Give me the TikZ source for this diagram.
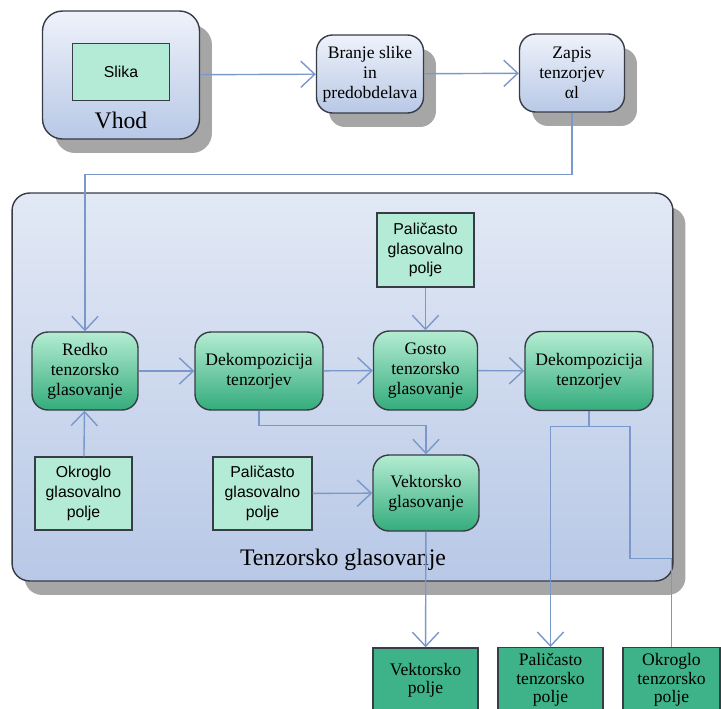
\documentclass[tikz,border=0pt]{standalone}
\usepackage{fontspec}
\setmainfont{Liberation Serif}
\setsansfont{Liberation Sans}
\usepackage{tikz}
\usetikzlibrary{arrows.meta, shadows}
\definecolor{conn}{RGB}{122,152,202}
\definecolor{edge}{RGB}{55,60,70}
\definecolor{mint}{RGB}{179,235,214}
\definecolor{greentop}{RGB}{180,236,210}
\definecolor{greenbot}{RGB}{52,172,124}
\definecolor{bluetop}{RGB}{238,242,250}
\definecolor{bluebot}{RGB}{184,200,230}
\definecolor{darkgreen}{RGB}{62,178,136}
\tikzstyle{stage} = [rectangle, rounded corners=0.32cm, align=center, draw=edge, line width=0.8pt, top color=bluetop, bottom color=bluebot, drop shadow={shadow xshift=0.25cm, shadow yshift=-0.28cm, fill=black!35, opacity=1}, font=\fontsize{10}{11.5}\selectfont]
\tikzstyle{process} = [rectangle, rounded corners=0.32cm, align=center, draw=edge, line width=0.8pt, top color=greentop, bottom color=greenbot, font=\fontsize{10}{11.5}\selectfont]
\tikzstyle{field} = [rectangle, align=center, draw=edge, line width=0.8pt, fill=mint, font=\sffamily\fontsize{9}{11.3}\selectfont]
\tikzstyle{result} = [rectangle, align=center, draw=edge, line width=0.8pt, fill=darkgreen, font=\fontsize{10}{10.5}\selectfont]
\tikzstyle{panel} = [rectangle, rounded corners=0.35cm, draw=edge, line width=0.8pt, top color=bluetop!90!conn, bottom color=bluebot, drop shadow={shadow xshift=0.25cm, shadow yshift=-0.28cm, fill=black!35, opacity=1}]
\tikzstyle{arrow} = [draw=conn, line width=0.8pt, -{Straight Barb[length=8pt, width=15pt]}]
\tikzstyle{link} = [draw=conn, line width=0.8pt]

\begin{document}
\begin{tikzpicture}[x=0.02cm, y=-0.02cm]
        \clip (0,0) rectangle (721,708);
        % input
        \node (vhod) [stage, minimum width=3.14cm, minimum height=2.56cm, rounded corners=0.4cm] at (121,75) {};
        \node (slika) [field, minimum width=1.94cm, minimum height=1.14cm] at (121,72) {Slika};
        \node (vhodtxt) [font=\fontsize{13.5}{15}\selectfont] at (121,120) {Vhod};
        \node (branje) [stage, minimum width=2.14cm, minimum height=1.56cm] at (370,74) {Branje slike\\in\\predobdelava};
        \node (zapis) [stage, minimum width=2.1cm, minimum height=1.56cm] at (572,73) {Zapis\\tenzorjev\\αl};

        % tensor voting
        \node (tenz) [panel, minimum width=13.22cm, minimum height=7.76cm] at (342.5,387) {};
        \node (tenztxt) [font=\fontsize{13.5}{15}\selectfont] at (343,560) {Tenzorsko glasovanje};
        \node (palA) [field, minimum width=1.94cm, minimum height=1.48cm] at (425.5,250) {Paličasto\\glasovalno\\polje};
        \node (redko) [process, minimum width=2.12cm, minimum height=1.56cm] at (85,371) {Redko\\tenzorsko\\glasovanje};
        \node (dek1) [process, minimum width=2.56cm, minimum height=1.56cm] at (259,371) {Dekompozicija\\tenzorjev};
        \node (gosto) [process, minimum width=2.08cm, minimum height=1.58cm] at (425.5,370.5) {Gosto\\tenzorsko\\glasovanje};
        \node (dek2) [process, minimum width=2.56cm, minimum height=1.58cm] at (589,371) {Dekompozicija\\tenzorjev};
        \node (vektg) [process, minimum width=2.12cm, minimum height=1.52cm] at (426,493) {Vektorsko\\glasovanje};
        \node (okrA) [field, minimum width=1.94cm, minimum height=1.46cm] at (83.5,493.5) {Okroglo\\glasovalno\\polje};
        \node (palB) [field, minimum width=1.98cm, minimum height=1.46cm] at (262.5,493.5) {Paličasto\\glasovalno\\polje};

        % outputs
        \node (vektp) [result, minimum width=2.1cm, minimum height=1.28cm] at (425.5,680) {Vektorsko\\polje};
        \node (palT) [result, minimum width=2.1cm, minimum height=1.28cm] at (550.5,680) {Paličasto\\tenzorsko\\polje};
        \node (okrT) [result, minimum width=1.94cm, minimum height=1.28cm] at (671.5,680) {Okroglo\\tenzorsko\\polje};

        \draw [arrow] (vhod) -- (branje);
        \draw [arrow] (branje) -- (zapis);
        \draw [arrow] (zapis.south) -- ++(0,62) -| (redko.north);
        \draw [arrow] (okrA) -- (redko);
        \draw [arrow] (redko) -- (dek1);
        \draw [arrow] (dek1) -- (gosto);
        \draw [arrow] (palA) -- (gosto);
        \draw [arrow] (gosto) -- (dek2);
        \draw [arrow] (dek1.south) -- ++(0,15) -| (vektg.north);
        \draw [arrow] (palB) -- (vektg);
        \draw [arrow] (vektg) -- (vektp);
        \path (dek2.south) ++(0,15) coordinate (razcep);
        \draw [link] (dek2.south) -- (razcep);
        \draw [arrow] (razcep) -| (palT.north);
        \draw [link] (razcep) -- ++(41,0) -- ++(0,132) -| (okrT.north);
    \end{tikzpicture}
\end{document}
